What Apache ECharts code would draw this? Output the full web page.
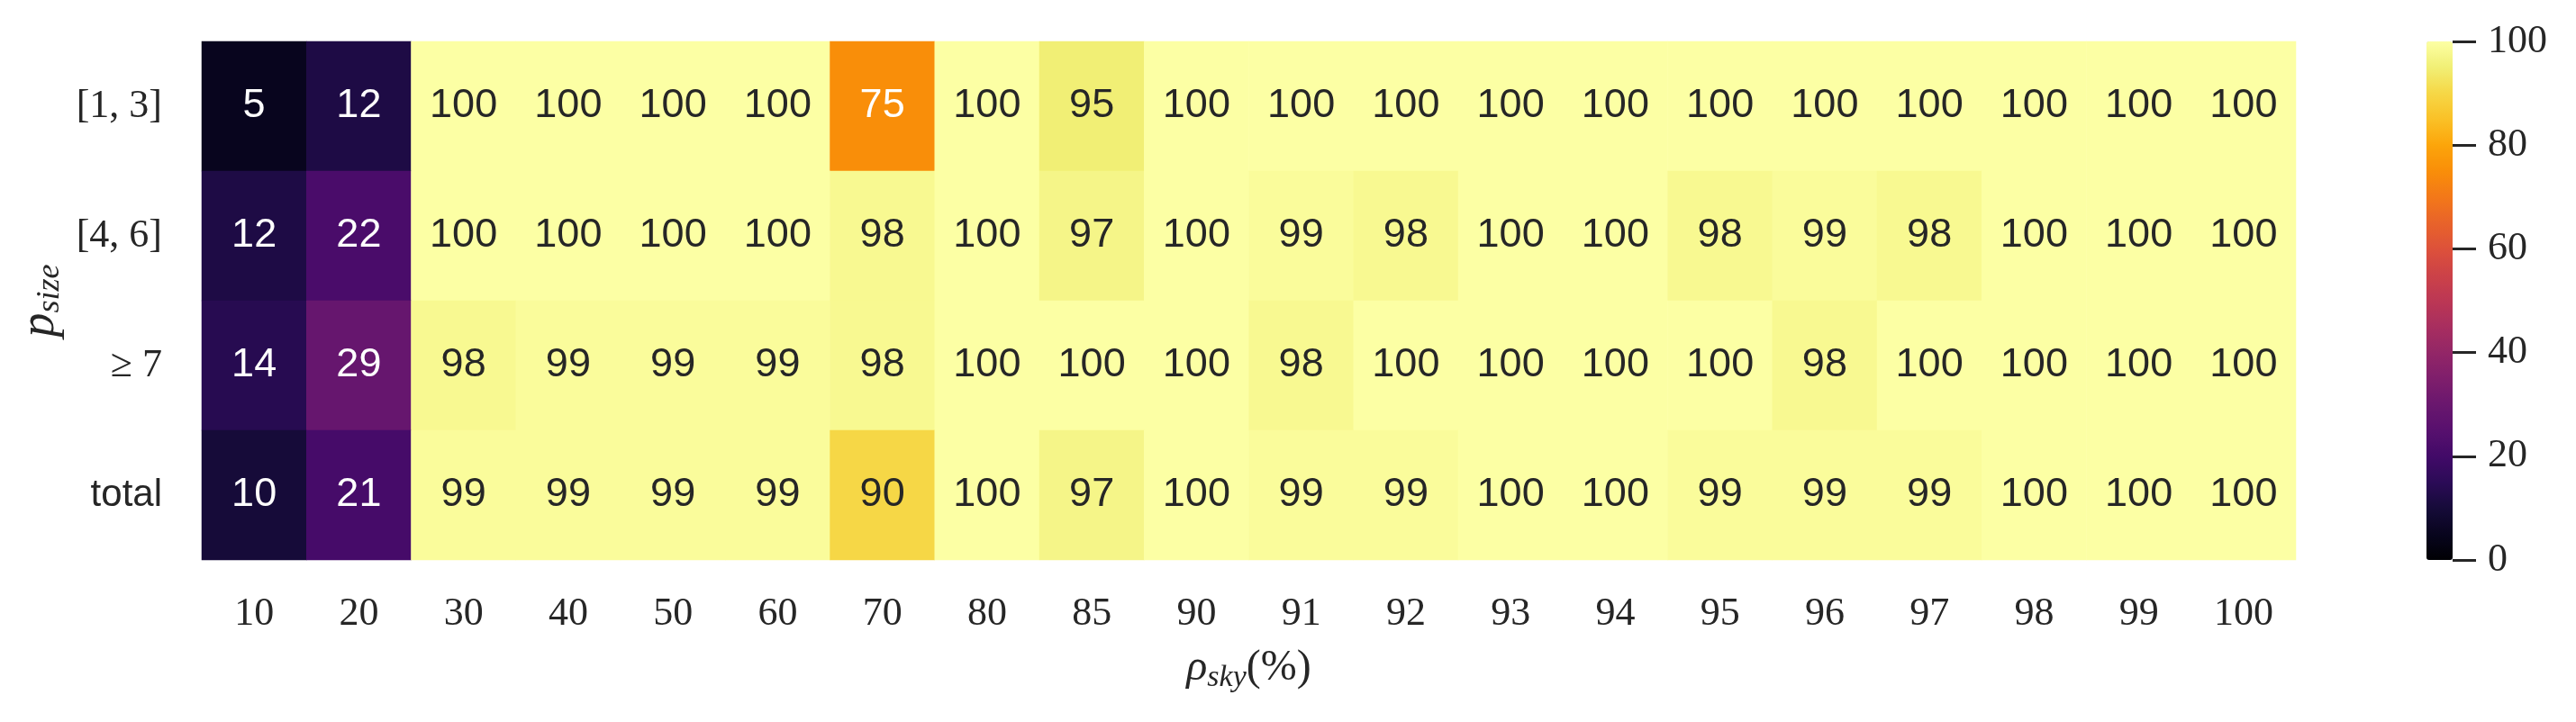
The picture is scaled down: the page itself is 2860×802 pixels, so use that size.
<!DOCTYPE html>
<html>
<head>
<meta charset="utf-8">
<script src="https://cdn.jsdelivr.net/npm/echarts@6/dist/echarts.min.js"></script>
<style>
html,body{margin:0;padding:0;background:#fff;}
#chart{width:2860px;height:802px;}
</style>
</head>
<body>
<div id="chart"></div>
<script>
// Categories
var xCategories = ['10','20','30','40','50','60','70','80','85','90','91','92','93','94','95','96','97','98','99','100'];
var yCategories = ['[1, 3]','[4, 6]','≥ 7','total'];
// Values per row (percent)
var row13   = [5,12,100,100,100,100,75,100,95,100,100,100,100,100,100,100,100,100,100,100];
var row46   = [12,22,100,100,100,100,98,100,97,100,99,98,100,100,98,99,98,100,100,100];
var row7    = [14,29,98,99,99,99,98,100,100,100,98,100,100,100,100,98,100,100,100,100];
var rowTot  = [10,21,99,99,99,99,90,100,97,100,99,99,100,100,99,99,99,100,100,100];
var colorbarTicks = [0,20,40,60,80,100];

var rows = [row13, row46, row7, rowTot];
// inferno colormap, 21 evenly spaced stops
var inferno = ['#000004','#08051e','#160b39','#2b0b57','#420a68','#57106e','#6a176e','#7f1e6c',
  '#932667','#a82e5f','#bc3754','#cc4248','#dd513a','#e8632a','#f37819','#f98e09','#fca50a',
  '#fac127','#f6d746','#f1ef75','#fcffa4'];

var data = [];
rows.forEach(function(r, yi){
  r.forEach(function(v, xi){
    data.push({value:[xi, yi, v], label:{color: v < 80 ? '#ffffff' : '#262626'}});
  });
});

var serif = '"Liberation Serif", "DejaVu Serif", serif';
var sans = '"Liberation Sans", "Noto Sans", sans-serif';

var chart = echarts.init(document.getElementById('chart'));
chart.setOption({
  backgroundColor:'#ffffff',
  animation:false,
  grid:[
    {left:224, top:46, width:2325, height:576},
    {left:2694, top:46, width:29, height:576}
  ],
  xAxis:[
    {type:'category', data:xCategories, gridIndex:0,
     axisLine:{show:false}, axisTick:{show:false}, splitLine:{show:false},
     axisLabel:{fontFamily:serif, fontSize:44, color:'#262626', margin:38},
     name:'{i|ρ}{sub|sky}{r|(%)}', nameLocation:'middle', nameGap:92,
     nameTextStyle:{rich:{
       i:{fontFamily:serif, fontStyle:'italic', fontSize:48, color:'#262626'},
       sub:{fontFamily:serif, fontStyle:'italic', fontSize:34, color:'#262626', padding:[22,0,0,0]},
       r:{fontFamily:serif, fontSize:48, color:'#262626'}
     }}
    },
    {type:'value', gridIndex:1, show:false, min:0, max:1}
  ],
  yAxis:[
    {type:'category', data:yCategories, gridIndex:0, inverse:true,
     axisLine:{show:false}, axisTick:{show:false}, splitLine:{show:false},
     axisLabel:{margin:44, formatter:function(v){ return v==='total' ? '{s|'+v+'}' : '{m|'+v+'}'; },
       rich:{
         m:{fontFamily:serif, fontSize:44, color:'#262626'},
         s:{fontFamily:sans, fontSize:42, color:'#262626'}
       }},
     name:'{i|p}{sub|size}', nameLocation:'middle', nameGap:150, nameRotate:90,
     nameTextStyle:{rich:{
       i:{fontFamily:serif, fontStyle:'italic', fontSize:54, color:'#262626'},
       sub:{fontFamily:serif, fontStyle:'italic', fontSize:36, color:'#262626', padding:[22,0,0,0]}
     }}
    },
    {type:'value', gridIndex:1, position:'right', min:0, max:100, interval:20,
     axisLine:{show:false, onZero:false}, splitLine:{show:false},
     axisTick:{show:true, length:26, lineStyle:{color:'#262626', width:3}},
     axisLabel:{fontFamily:serif, fontSize:44, color:'#262626', margin:39,
       formatter:function(v){ return colorbarTicks.indexOf(v) >= 0 ? String(v) : ''; }}
    }
  ],
  visualMap:{
    type:'continuous', min:0, max:100, seriesIndex:0, calculable:false,
    orient:'vertical', left:2694, top:46, itemWidth:29, itemHeight:576, padding:0,
    text:null, showLabel:false,
    inRange:{color:inferno}
  },
  series:[{
    type:'heatmap', xAxisIndex:0, yAxisIndex:0, data:data,
    itemStyle:{borderWidth:0},
    label:{show:true, fontFamily:sans, fontSize:45,
      formatter:function(p){ return String(p.value[2]); }},
    emphasis:{disabled:true}
  }]
});
</script>
</body>
</html>
